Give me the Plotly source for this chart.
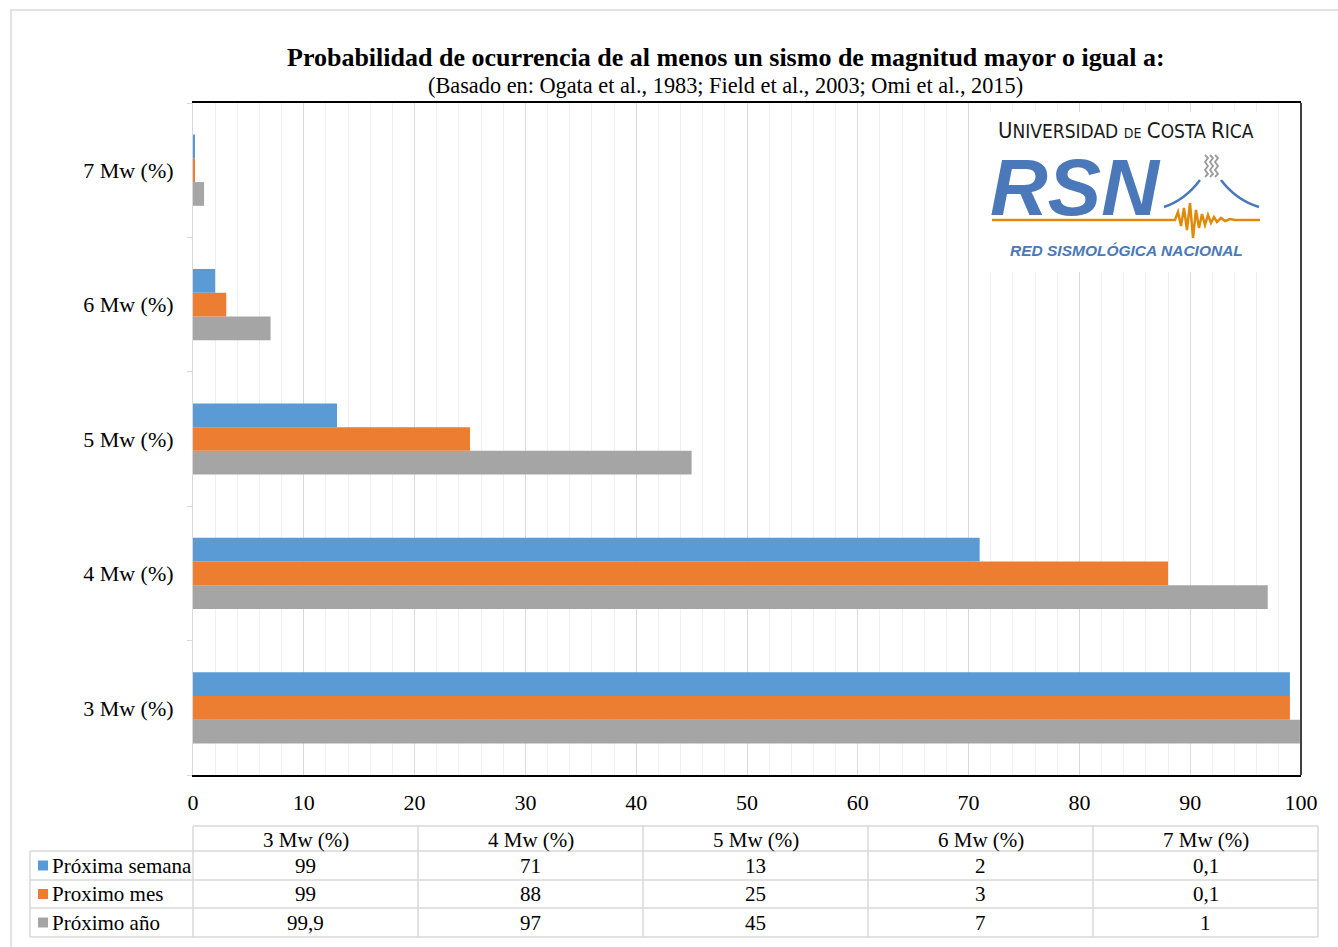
import plotly.graph_objects as go

# ---------------- data ----------------
categories = ["3 Mw (%)", "4 Mw (%)", "5 Mw (%)", "6 Mw (%)", "7 Mw (%)"]
series_names = ["Próxima semana", "Proximo mes", "Próximo año"]
proxima_semana = [99, 71, 13, 2, 0.1]
proximo_mes = [99, 88, 25, 3, 0.1]
proximo_anio = [99.9, 97, 45, 7, 1]
x_ticks = [0, 10, 20, 30, 40, 50, 60, 70, 80, 90, 100]

colors = ["#5B9BD5", "#ED7D31", "#A5A5A5"]
series_values = [proxima_semana, proximo_mes, proximo_anio]

W, H = 1338, 947
L, R, T, B = 193, 1301, 103, 775  # plot area in pixels


def px(x):
    return (x - L) / (R - L)


def py(y):
    return (B - y) / (B - T)


def fmt(v):
    s = ("%g" % v)
    return s.replace(".", ",")


SERIF = "Liberation Serif, Times New Roman, serif"

fig = go.Figure()
# add in reverse so blue is on top in each group
for name, vals, col in reversed(list(zip(series_names, series_values, colors))):
    fig.add_trace(go.Bar(
        y=categories, x=vals, name=name, orientation="h",
        marker=dict(color=col, line=dict(width=0)),
        showlegend=False, hoverinfo="x+name",
    ))

fig.update_layout(
    width=W, height=H,
    margin=dict(l=L, r=W - R, t=T, b=H - B, pad=0),
    paper_bgcolor="white", plot_bgcolor="white",
    barmode="group", bargap=0.47, bargroupgap=0,
    font=dict(family=SERIF, color="#000000"),
)

fig.update_xaxes(
    range=[0, 100], tickvals=x_ticks, ticktext=[str(v) for v in x_ticks],
    showgrid=True, gridcolor="#D9D9D9", gridwidth=1,
    minor=dict(dtick=2, showgrid=True, gridcolor="#F0F0F0", gridwidth=1),
    showline=True, linecolor="#000000", linewidth=1.5, mirror=True,
    ticks="", tickfont=dict(size=22, family=SERIF, color="#000"),
    ticklabelstandoff=7, zeroline=False, fixedrange=True,
)
fig.update_yaxes(
    categoryorder="array", categoryarray=categories,
    showline=True, linecolor="#D9D9D9", linewidth=1,
    ticks="outside", tickson="boundaries", ticklen=5, tickcolor="#D9D9D9",
    tickfont=dict(size=22, family=SERIF, color="#000"),
    ticklabelstandoff=14, showgrid=False, fixedrange=True,
)

shapes = []
annotations = []

# right border of plot area (black)
shapes.append(dict(type="line", xref="paper", yref="paper", x0=1, x1=1, y0=0, y1=1,
                   line=dict(color="#000", width=1.5)))
# outer chart frame
shapes.append(dict(type="rect", xref="paper", yref="paper", x0=px(11), x1=px(1345),
                   y0=py(960), y1=py(10), line=dict(color="#D9D9D9", width=1.5), layer="below"))

# titles
annotations.append(dict(xref="paper", yref="paper", x=px(726), y=py(58), showarrow=False,
                        text="<b>Probabilidad de ocurrencia de al menos un sismo de magnitud mayor o igual a:</b>",
                        font=dict(size=26, family=SERIF, color="#000"), xanchor="center", yanchor="middle"))
annotations.append(dict(xref="paper", yref="paper", x=px(725), y=py(85), showarrow=False,
                        text="(Basado en: Ogata et al., 1983; Field et al., 2003; Omi et al., 2015)",
                        font=dict(size=22.3, family=SERIF, color="#000"), xanchor="center", yanchor="middle"))

# ---------------- data table below ----------------
col_edges = [193, 418, 643, 868, 1093, 1318]
row_edges = [826, 851, 880, 908, 937]
legend_left = 30
gcol = "#D9D9D9"
# horizontal lines
shapes.append(dict(type="line", xref="paper", yref="paper", x0=px(col_edges[0]), x1=px(col_edges[-1]),
                   y0=py(row_edges[0]), y1=py(row_edges[0]), line=dict(color=gcol, width=1.5)))
for ry in row_edges[1:]:
    shapes.append(dict(type="line", xref="paper", yref="paper", x0=px(legend_left), x1=px(col_edges[-1]),
                       y0=py(ry), y1=py(ry), line=dict(color=gcol, width=1.5)))
# vertical lines
for cx in col_edges:
    shapes.append(dict(type="line", xref="paper", yref="paper", x0=px(cx), x1=px(cx),
                       y0=py(row_edges[0]), y1=py(row_edges[-1]), line=dict(color=gcol, width=1.5)))
shapes.append(dict(type="line", xref="paper", yref="paper", x0=px(legend_left), x1=px(legend_left),
                   y0=py(row_edges[1]), y1=py(row_edges[-1]), line=dict(color=gcol, width=1.5)))

# header
for i, cat in enumerate(categories):
    cx = (col_edges[i] + col_edges[i + 1]) / 2
    cy = (row_edges[0] + row_edges[1]) / 2 + 1
    annotations.append(dict(xref="paper", yref="paper", x=px(cx), y=py(cy), text=cat, showarrow=False,
                            font=dict(size=21, family=SERIF, color="#000"), xanchor="center", yanchor="middle"))
# rows
for r, (name, vals, col) in enumerate(zip(series_names, series_values, colors)):
    cy = (row_edges[r + 1] + row_edges[r + 2]) / 2
    shapes.append(dict(type="rect", xref="paper", yref="paper", x0=px(38), x1=px(48),
                       y0=py(cy + 5), y1=py(cy - 5), fillcolor=col, line=dict(width=0)))
    annotations.append(dict(xref="paper", yref="paper", x=px(50), y=py(cy), text=name, showarrow=False,
                            font=dict(size=21, family=SERIF, color="#000"), xanchor="left", yanchor="middle"))
    for i, v in enumerate(vals):
        cx = (col_edges[i] + col_edges[i + 1]) / 2
        annotations.append(dict(xref="paper", yref="paper", x=px(cx), y=py(cy), text=fmt(v), showarrow=False,
                                font=dict(size=21, family=SERIF, color="#000"), xanchor="center", yanchor="middle"))

# ---------------- logo (UCR / RSN) ----------------
BLUE = "#4A78B8"
ORANGE = "#E08A0B"
shapes.append(dict(type="rect", xref="paper", yref="paper", x0=px(985), x1=px(1272),
                   y0=py(272), y1=py(112), fillcolor="white", line=dict(width=0), layer="above"))
annotations.append(dict(xref="paper", yref="paper", x=px(1126), y=py(131), showarrow=False,
                        text="<span style='font-size:22px'>U</span>NIVERSIDAD <span style='font-size:14px'>DE</span> "
                             "<span style='font-size:22px'>C</span>OSTA <span style='font-size:22px'>R</span>ICA",
                        font=dict(size=19, family="DejaVu Sans Condensed, Liberation Sans", color="#1a1a1a"),
                        xanchor="center", yanchor="middle"))
annotations.append(dict(xref="paper", yref="paper", x=px(988), y=py(187), showarrow=False,
                        text="<b><i>RSN</i></b>",
                        font=dict(size=80, family="Liberation Sans, Arial", color=BLUE),
                        xanchor="left", yanchor="middle"))
annotations.append(dict(xref="paper", yref="paper", x=px(1126), y=py(250), showarrow=False,
                        text="<b><i>RED SISMOLÓGICA NACIONAL</i></b>",
                        font=dict(size=15.5, family="Liberation Sans, Arial", color=BLUE),
                        xanchor="center", yanchor="middle"))


def path_px(points):
    d = "M " + " L ".join("%.5f,%.5f" % (px(x), py(y)) for x, y in points)
    return d


# volcano slopes
shapes.append(dict(type="path", xref="paper", yref="paper",
                   path="M %.5f,%.5f Q %.5f,%.5f %.5f,%.5f" % (px(1164), py(207), px(1185), py(200), px(1200), py(180)),
                   line=dict(color=BLUE, width=2.5), layer="above"))
shapes.append(dict(type="path", xref="paper", yref="paper",
                   path="M %.5f,%.5f Q %.5f,%.5f %.5f,%.5f" % (px(1221), py(180), px(1236), py(200), px(1259), py(207)),
                   line=dict(color=BLUE, width=2.5), layer="above"))
# steam squiggles
for sx in (1205, 1210, 1215):
    pts = [(sx, 155), (sx + 3, 158), (sx, 162), (sx + 3, 166), (sx, 170), (sx + 3, 174), (sx, 177)]
    shapes.append(dict(type="path", xref="paper", yref="paper", path=path_px(pts),
                       line=dict(color="#9A9A9A", width=1.8), layer="above"))
# orange baseline with seismogram
seis = [(992, 220), (1175, 220), (1178, 212), (1181, 226), (1184, 208), (1187, 230), (1190, 203),
        (1193, 238), (1196, 210), (1199, 228), (1202, 214), (1205, 225), (1208, 215), (1211, 223),
        (1214, 217), (1217, 222), (1221, 218), (1225, 221), (1230, 219), (1235, 220), (1260, 220)]
shapes.append(dict(type="path", xref="paper", yref="paper", path=path_px(seis),
                   line=dict(color=ORANGE, width=2.5), layer="above"))

fig.update_layout(shapes=shapes, annotations=annotations)

fig.write_html("out.html", config={"displayModeBar": False},
               post_script="document.body.style.margin='0';document.body.style.overflow='hidden';")
